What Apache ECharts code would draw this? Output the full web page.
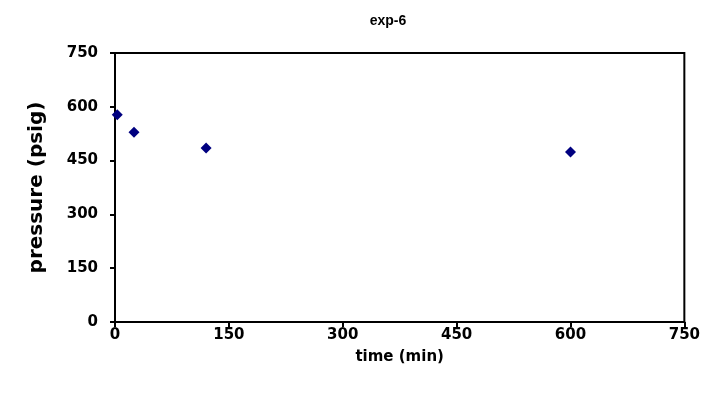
<!DOCTYPE html>
<html>
<head>
<meta charset="utf-8">
<script src="https://cdn.jsdelivr.net/npm/echarts@6/dist/echarts.min.js"></script>
<style>html,body{margin:0;padding:0;background:#fff}#c{width:703px;height:397px}</style>
</head>
<body>
<div id="c"></div>
<script>
var chartTitle = "exp-6";
var xName = "time (min)";
var yName = "pressure (psig)";
var timeMin = [3, 25, 120, 600];
var pressurePsig = [578, 529, 485, 474];

var chart = echarts.init(document.getElementById('c'), null, {renderer: 'canvas'});
var pts = timeMin.map(function (t, i) { return [t, pressurePsig[i]]; });
var labelStyle = {color: '#000', fontFamily: 'DejaVu Sans, sans-serif', fontWeight: 'bold', fontSize: 15};
chart.setOption({
  animation: false,
  backgroundColor: '#fff',
  title: {
    text: chartTitle, left: 383, top: 9, textAlign: 'center',
    textStyle: {fontFamily: 'Liberation Sans, Arial, sans-serif', fontWeight: 'bold', fontSize: 14, color: '#000'}
  },
  grid: {left: 115, right: 17, top: 53, bottom: 75, show: true, borderColor: '#000', borderWidth: 2, backgroundColor: '#fff'},
  xAxis: {
    type: 'value', min: 0, max: 750, interval: 150,
    name: xName, nameLocation: 'middle', nameGap: 28,
    nameTextStyle: {fontFamily: 'DejaVu Sans, sans-serif', fontWeight: 'bold', fontSize: 15, color: '#000'},
    axisLine: {show: true, lineStyle: {color: '#000', width: 2}},
    axisTick: {show: true, length: 5, lineStyle: {color: '#000', width: 2}},
    axisLabel: Object.assign({margin: 6}, labelStyle),
    splitLine: {show: false}
  },
  yAxis: {
    type: 'value', min: 0, max: 750, interval: 150,
    name: yName, nameLocation: 'middle', nameGap: 68, nameRotate: 90,
    nameTextStyle: {fontFamily: 'DejaVu Sans, sans-serif', fontWeight: 'bold', fontSize: 20, color: '#000'},
    axisLine: {show: true, lineStyle: {color: '#000', width: 2}},
    axisTick: {show: true, length: 5, lineStyle: {color: '#000', width: 2}},
    axisLabel: Object.assign({margin: 17}, labelStyle),
    splitLine: {show: false}
  },
  series: [{
    type: 'scatter', data: pts, symbol: 'diamond', symbolSize: 11,
    itemStyle: {color: '#000080', opacity: 1}
  }]
});
</script>
</body>
</html>
